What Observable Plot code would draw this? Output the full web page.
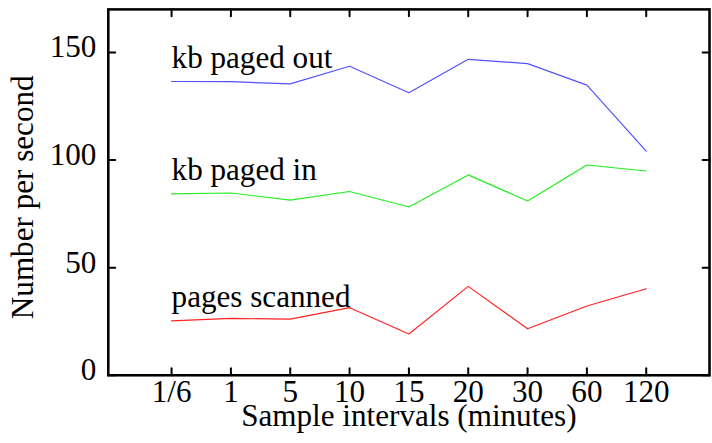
<!DOCTYPE html>
<html>
<head>
<meta charset="utf-8">
<script src="https://cdn.jsdelivr.net/npm/d3@7"></script>
<script src="https://cdn.jsdelivr.net/npm/@observablehq/plot@0.6"></script>
<style>
  html, body { margin: 0; padding: 0; background: #fff; overflow: hidden; }
  #chart svg { display: block; }
  #chart svg, #chart svg text { font-family: "Liberation Serif", "Times New Roman", serif !important; }
</style>
</head>
<body>
<div id="chart"></div>
<script>
// Sample intervals (minutes) along the x axis
const intervals = ["1/6", "1", "5", "10", "15", "20", "30", "60", "120"];

// Rates per second for each sampling interval
const kbPagedOut   = [136.5, 136.4, 135.4, 143.6, 131.3, 146.8, 144.8, 134.8, 104.1];
const kbPagedIn    = [84.3, 84.7, 81.4, 85.4, 78.2, 93.1, 81.0, 97.7, 94.9];
const pagesScanned = [25.3, 26.4, 26.1, 31.4, 19.2, 41.3, 21.6, 32.2, 40.2];

const seriesNames  = ["kb paged out", "kb paged in", "pages scanned"];
const seriesValues = [kbPagedOut, kbPagedIn, pagesScanned];
const seriesColors = ["#5252ff", "#22ee22", "#ff2222"];

const yTicks = [0, 50, 100, 150];

// Long table: one row per (series, interval)
const rows = seriesNames.flatMap((name, s) =>
  intervals.map((iv, i) => ({series: name, interval: iv, value: seriesValues[s][i]}))
);
const firstPoints = rows.filter(d => d.interval === intervals[0]);

const font = "'Liberation Serif', 'Times New Roman', serif";
const fs = 31.5;

// straight tick segment drawn from the anchor point
const tickShape = {draw(context, l) { context.moveTo(0, 0); context.lineTo(0, -l); }};
const tickLen = 7;

const chart = Plot.plot({
  width: 720,
  height: 443,
  marginLeft: 109,
  marginRight: 3,
  marginTop: 9,
  marginBottom: 64,
  style: {fontFamily: font, fontSize: `${fs}px`, color: "#000", background: "#fff", overflow: "visible"},
  x: {type: "point", domain: intervals, padding: 1},
  y: {domain: [0, 170]},
  color: {domain: seriesNames, range: seriesColors},
  marks: [
    Plot.axisX({ticks: intervals, tickSize: 0, tickPadding: 5, label: null, fontSize: fs, fontFamily: font}),
    Plot.axisY({ticks: yTicks, tickSize: 0, tickPadding: 12, dy: -5, label: null, fontSize: fs, fontFamily: font}),
    // inward ticks on all four sides
    Plot.vector(intervals, {x: d => d, frameAnchor: "bottom", length: tickLen, rotate: 0, anchor: "start", shape: tickShape, stroke: "#000", strokeWidth: 2}),
    Plot.vector(intervals, {x: d => d, frameAnchor: "top", length: tickLen, rotate: 180, anchor: "start", shape: tickShape, stroke: "#000", strokeWidth: 2}),
    Plot.vector(yTicks, {y: d => d, frameAnchor: "left", length: tickLen, rotate: 90, anchor: "start", shape: tickShape, stroke: "#000", strokeWidth: 2}),
    Plot.vector(yTicks, {y: d => d, frameAnchor: "right", length: tickLen, rotate: -90, anchor: "start", shape: tickShape, stroke: "#000", strokeWidth: 2}),
    Plot.line(rows, {x: "interval", y: "value", z: "series", stroke: "series", strokeWidth: 1.2}),
    Plot.text(firstPoints, {
      x: "interval", y: "value", text: "series",
      textAnchor: "start", lineAnchor: "bottom", dy: -14,
      fill: "#000", fontSize: fs, fontFamily: font
    }),
    Plot.frame({stroke: "#000", strokeWidth: 2.6}),
    Plot.text(["Sample intervals (minutes)"], {
      frameAnchor: "bottom", lineAnchor: "bottom", dy: 51, fill: "#000", fontSize: fs, fontFamily: font
    }),
    Plot.text(["Number per second"], {
      frameAnchor: "left", rotate: -90, lineAnchor: "bottom", textAnchor: "middle",
      dx: -76, dy: 5, fill: "#000", fontSize: fs, fontFamily: font
    })
  ]
});

document.getElementById("chart").appendChild(chart);
</script>
</body>
</html>
